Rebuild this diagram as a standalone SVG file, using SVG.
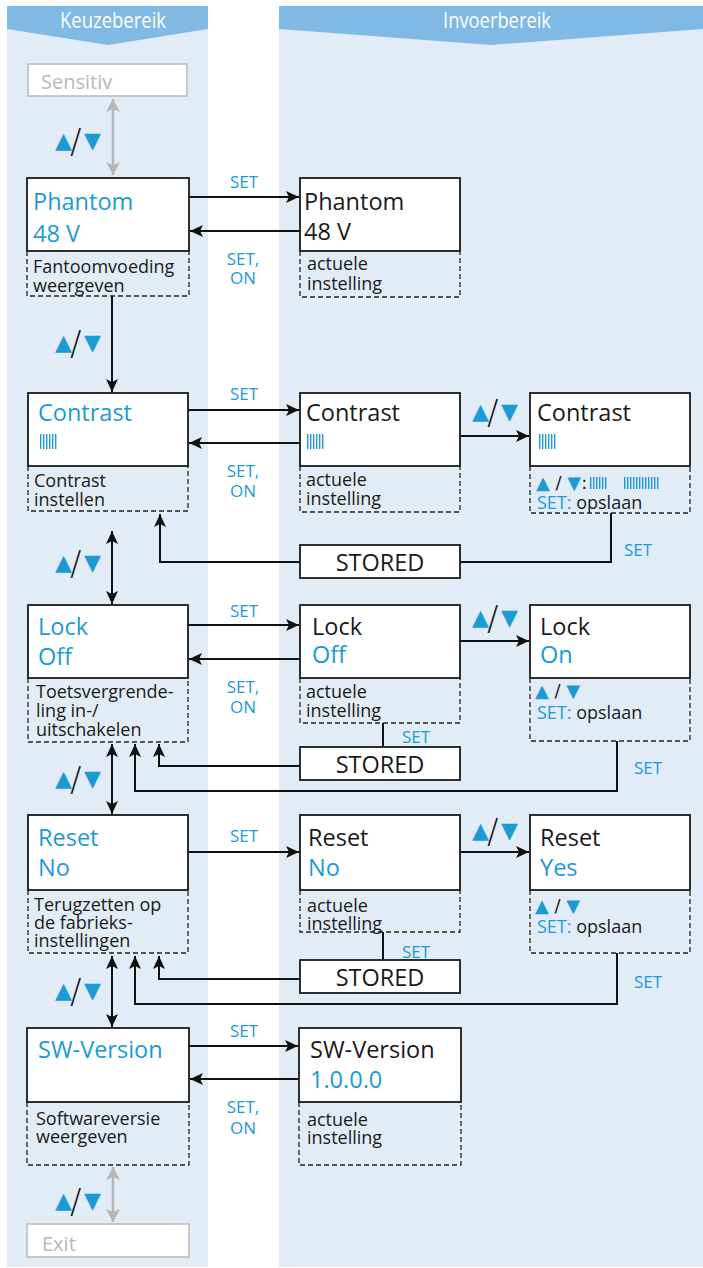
<svg xmlns="http://www.w3.org/2000/svg" width="703" height="1268" viewBox="0 0 703 1268">
<style>
.panel{fill:#e2ecf7}
.hdr{fill:#80b9e6}
.hdrt{fill:#fff;font-family:"Open Sans",sans-serif;font-size:21px;text-anchor:middle}
.box{fill:#fff;stroke:#1a1a1a;stroke-width:1.8}
.gbox{fill:#fff;stroke:#bdbdbd;stroke-width:1.6}
.dash{fill:none;stroke:#222;stroke-width:1.3;stroke-dasharray:5 3}
.t24{font-family:"Open Sans",sans-serif;font-size:23.5px}
.t18{font-family:"Open Sans",sans-serif;font-size:18px;fill:#1a1a1a}
.g20{font-family:"Open Sans",sans-serif;font-size:20px;fill:#b8b8b8}
.bl{fill:#1b9ad6}
.k{fill:#1a1a1a}
.lbl{font-family:"Open Sans",sans-serif;font-size:17px;fill:#1b9ad6;text-anchor:middle}
.sym{font-family:"DejaVu Sans",sans-serif;font-size:22px}
.sym18{font-family:"DejaVu Sans",sans-serif;font-size:18px}
.sl{font-family:"DejaVu Sans",sans-serif;font-weight:200;font-size:34px;fill:#1a1a1a}
.conn{fill:none;stroke:#111;stroke-width:2}
.gconn{fill:none;stroke:#b5b5b5;stroke-width:2.5}
.bars{stroke:#1b9ad6;stroke-width:1.4}
</style>
<defs>
<marker id="ah" markerUnits="userSpaceOnUse" markerWidth="14" markerHeight="12" refX="13" refY="6" orient="auto-start-reverse" viewBox="0 0 14 12"><path d="M0,0 L13,6 L0,12 L3,6 z" fill="#111"/></marker>
<marker id="gah" markerUnits="userSpaceOnUse" markerWidth="14" markerHeight="14" refX="13" refY="7" orient="auto-start-reverse" viewBox="0 0 14 14"><path d="M0,0 L13,7 L0,14 L3,7 z" fill="#b5b5b5"/></marker>
<g id="bar6"><path class="bars" d="M40.7,0v15M43.7,0v15M46.7,0v15M49.7,0v15M52.7,0v15M55.7,0v15"/></g>
</defs>

<g id="background">
<rect class="panel" x="7" y="6" width="201" height="1261"/>
<rect class="panel" x="279" y="6" width="424" height="1261"/>
<polygon class="hdr" points="7,6 208,6 208,29 108,45 7,29"/>
<polygon class="hdr" points="279,6 703,6 703,29 491,45 279,29"/>
<text class="hdrt" x="113" y="28" textLength="106" lengthAdjust="spacingAndGlyphs">Keuzebereik</text>
<text class="hdrt" x="497" y="28" textLength="108" lengthAdjust="spacingAndGlyphs">Invoerbereik</text>
</g>

<g id="connectors">
<line class="gconn" x1="113" y1="99" x2="113" y2="175" marker-start="url(#gah)" marker-end="url(#gah)"/>
<line class="gconn" x1="113" y1="1167" x2="113" y2="1222" marker-start="url(#gah)" marker-end="url(#gah)"/>
<line class="conn" x1="189" y1="197" x2="299" y2="197" marker-end="url(#ah)"/>
<line class="conn" x1="300" y1="231" x2="190" y2="231" marker-end="url(#ah)"/>
<line class="conn" x1="112" y1="296" x2="112" y2="392" marker-end="url(#ah)"/>
<line class="conn" x1="188" y1="410" x2="299" y2="410" marker-end="url(#ah)"/>
<line class="conn" x1="300" y1="443" x2="189" y2="443" marker-end="url(#ah)"/>
<line class="conn" x1="460" y1="436" x2="529" y2="436" marker-end="url(#ah)"/>
<polyline class="conn" points="611,513 611,562 460,562"/>
<polyline class="conn" points="300,562 160,562 160,514" marker-end="url(#ah)"/>
<line class="conn" x1="112" y1="531" x2="112" y2="604" marker-start="url(#ah)" marker-end="url(#ah)"/>
<line class="conn" x1="188" y1="625" x2="299" y2="625" marker-end="url(#ah)"/>
<line class="conn" x1="300" y1="659" x2="189" y2="659" marker-end="url(#ah)"/>
<line class="conn" x1="460" y1="641" x2="529" y2="641" marker-end="url(#ah)"/>
<line class="conn" x1="383" y1="723" x2="383" y2="747"/>
<polyline class="conn" points="300,766 159,766 159,744" marker-end="url(#ah)"/>
<polyline class="conn" points="617,741 617,791 135,791 135,744" marker-end="url(#ah)"/>
<line class="conn" x1="112" y1="744" x2="112" y2="814" marker-start="url(#ah)" marker-end="url(#ah)"/>
<line class="conn" x1="188" y1="852" x2="299" y2="852" marker-end="url(#ah)"/>
<line class="conn" x1="460" y1="852" x2="529" y2="852" marker-end="url(#ah)"/>
<line class="conn" x1="383" y1="932" x2="383" y2="960"/>
<polyline class="conn" points="300,979 159,979 159,956" marker-end="url(#ah)"/>
<polyline class="conn" points="617,953 617,1004 135,1004 135,956" marker-end="url(#ah)"/>
<line class="conn" x1="112" y1="956" x2="112" y2="1027" marker-start="url(#ah)" marker-end="url(#ah)"/>
<line class="conn" x1="189" y1="1046" x2="298" y2="1046" marker-end="url(#ah)"/>
<line class="conn" x1="299" y1="1079" x2="190" y2="1079" marker-end="url(#ah)"/>
<text class="lbl" x="244" y="188">SET</text>
<text class="lbl" x="243" y="265">SET,<tspan x="243" dy="19">ON</tspan></text>
<text class="lbl" x="244" y="400">SET</text>
<text class="lbl" x="243" y="477">SET,<tspan x="243" dy="20">ON</tspan></text>
<text class="lbl" x="638" y="556">SET</text>
<text class="lbl" x="244" y="617">SET</text>
<text class="lbl" x="243" y="693">SET,<tspan x="243" dy="20">ON</tspan></text>
<text class="lbl" x="416" y="743">SET</text>
<text class="lbl" x="648" y="774">SET</text>
<text class="lbl" x="244" y="842">SET</text>
<text class="lbl" x="416" y="958">SET</text>
<text class="lbl" x="648" y="988">SET</text>
<text class="lbl" x="244" y="1037">SET</text>
<text class="lbl" x="243" y="1113">SET,<tspan x="243" dy="21">ON</tspan></text>
<text class="sym"><tspan class="bl" x="55" y="148">▲</tspan><tspan class="sl" x="70" y="153">/</tspan><tspan class="bl" x="84" y="148">▼</tspan></text>
<text class="sym"><tspan class="bl" x="55" y="350">▲</tspan><tspan class="sl" x="70" y="355">/</tspan><tspan class="bl" x="84" y="350">▼</tspan></text>
<text class="sym"><tspan class="bl" x="55" y="570">▲</tspan><tspan class="sl" x="70" y="575">/</tspan><tspan class="bl" x="84" y="570">▼</tspan></text>
<text class="sym"><tspan class="bl" x="55" y="786">▲</tspan><tspan class="sl" x="70" y="791">/</tspan><tspan class="bl" x="84" y="786">▼</tspan></text>
<text class="sym"><tspan class="bl" x="55" y="998">▲</tspan><tspan class="sl" x="70" y="1003">/</tspan><tspan class="bl" x="84" y="998">▼</tspan></text>
<text class="sym"><tspan class="bl" x="55" y="1208">▲</tspan><tspan class="sl" x="70" y="1213">/</tspan><tspan class="bl" x="84" y="1208">▼</tspan></text>
<text class="sym"><tspan class="bl" x="472" y="419">▲</tspan><tspan class="sl" x="487" y="424">/</tspan><tspan class="bl" x="501" y="419">▼</tspan></text>
<text class="sym"><tspan class="bl" x="472" y="625">▲</tspan><tspan class="sl" x="487" y="630">/</tspan><tspan class="bl" x="501" y="625">▼</tspan></text>
<text class="sym"><tspan class="bl" x="472" y="838">▲</tspan><tspan class="sl" x="487" y="843">/</tspan><tspan class="bl" x="501" y="838">▼</tspan></text>
</g>

<g id="sensitiv">
<rect class="gbox" x="28" y="64" width="159" height="32"/>
<text class="g20" x="41" y="89">Sensitiv</text>
</g>

<g id="phantom-menu">
<path class="dash" d="M27,251V296H189V251"/>
<rect class="box" x="27" y="178" width="162" height="73"/>
<text class="t24 bl" x="33" y="210">Phantom<tspan x="33" dy="32">48 V</tspan></text>
<text class="t18" x="33" y="273">Fantoomvoeding<tspan x="33" dy="19">weergeven</tspan></text>
</g>
<g id="phantom-input">
<path class="dash" d="M300,251V297H460V251"/>
<rect class="box" x="300" y="178" width="160" height="73"/>
<text class="t24 k" x="304" y="210">Phantom<tspan x="304" dy="30">48 V</tspan></text>
<text class="t18" x="307" y="270">actuele<tspan x="307" dy="20">instelling</tspan></text>
</g>

<g id="contrast-menu">
<path class="dash" d="M28,466V511H188V466"/>
<rect class="box" x="28" y="393" width="160" height="73"/>
<text class="t24 bl" x="38" y="421">Contrast</text>
<use href="#bar6" y="434"/>
<text class="t18" x="34" y="487">Contrast<tspan x="34" dy="19">instellen</tspan></text>
</g>
<g id="contrast-input">
<path class="dash" d="M300,466V512H460V466"/>
<rect class="box" x="300" y="393" width="160" height="73"/>
<text class="t24 k" x="306" y="421">Contrast</text>
<use href="#bar6" x="267" y="434"/>
<text class="t18" x="306" y="486">actuele<tspan x="306" dy="19">instelling</tspan></text>
</g>
<g id="contrast-edit">
<path class="dash" d="M530,466V513H690V466"/>
<rect class="box" x="530" y="393" width="160" height="73"/>
<text class="t24 k" x="537" y="421">Contrast</text>
<use href="#bar6" x="499" y="434"/>
<text class="sym18" x="536" y="489"><tspan class="bl">▲</tspan><tspan class="k"> / </tspan><tspan class="bl">▼</tspan><tspan class="k">:</tspan></text>
<path class="bars" d="M590.7,477v12M593.7,477v12M596.7,477v12M599.7,477v12M602.7,477v12M605.7,477v12M624.7,477v12M627.7,477v12M630.7,477v12M633.7,477v12M636.7,477v12M639.7,477v12M642.7,477v12M645.7,477v12M648.7,477v12M651.7,477v12M654.7,477v12M657.7,477v12"/>
<text class="t18" x="537" y="509"><tspan class="bl">SET:</tspan> opslaan</text>
</g>
<g id="contrast-stored">
<rect class="box" x="300" y="545" width="160" height="33"/>
<text class="t24 k" x="380" y="571" text-anchor="middle">STORED</text>
</g>

<g id="lock-menu">
<path class="dash" d="M28,678V742H188V678"/>
<rect class="box" x="28" y="605" width="160" height="73"/>
<text class="t24 bl" x="38" y="635">Lock<tspan x="38" dy="30">Off</tspan></text>
<text class="t18" x="36" y="698">Toetsvergrende-<tspan x="36" dy="19">ling in-/</tspan><tspan x="36" dy="19">uitschakelen</tspan></text>
</g>
<g id="lock-input">
<path class="dash" d="M300,678V723H460V678"/>
<rect class="box" x="300" y="605" width="160" height="73"/>
<text class="t24 k" x="312" y="635">Lock</text>
<text class="t24 bl" x="312" y="663">Off</text>
<text class="t18" x="306" y="698">actuele<tspan x="306" dy="19">instelling</tspan></text>
</g>
<g id="lock-edit">
<path class="dash" d="M530,678V741H690V678"/>
<rect class="box" x="530" y="605" width="160" height="73"/>
<text class="t24 k" x="540" y="635">Lock</text>
<text class="t24 bl" x="540" y="663">On</text>
<text class="sym18" x="535" y="697"><tspan class="bl">▲</tspan><tspan class="k"> / </tspan><tspan class="bl">▼</tspan><tspan class="t18 bl" x="537" dy="22">SET:</tspan><tspan class="t18"> opslaan</tspan></text>
</g>
<g id="lock-stored">
<rect class="box" x="300" y="747" width="160" height="33"/>
<text class="t24 k" x="380" y="773" text-anchor="middle">STORED</text>
</g>

<g id="reset-menu">
<path class="dash" d="M28,890V953H188V890"/>
<rect class="box" x="28" y="815" width="160" height="75"/>
<text class="t24 bl" x="38" y="846">Reset<tspan x="38" dy="30">No</tspan></text>
<text class="t18" x="34" y="911">Terugzetten op<tspan x="34" dy="18">de fabrieks-</tspan><tspan x="34" dy="18">instellingen</tspan></text>
</g>
<g id="reset-input">
<path class="dash" d="M300,890V932H460V890"/>
<rect class="box" x="300" y="815" width="160" height="75"/>
<text class="t24 k" x="308" y="846">Reset</text>
<text class="t24 bl" x="308" y="876">No</text>
<text class="t18" x="307" y="912">actuele<tspan x="307" dy="18">instelling</tspan></text>
</g>
<g id="reset-edit">
<path class="dash" d="M530,890V953H690V890"/>
<rect class="box" x="530" y="815" width="160" height="75"/>
<text class="t24 k" x="540" y="846">Reset</text>
<text class="t24 bl" x="540" y="876">Yes</text>
<text class="sym18" x="535" y="912"><tspan class="bl">▲</tspan><tspan class="k"> / </tspan><tspan class="bl">▼</tspan><tspan class="t18 bl" x="537" dy="21">SET:</tspan><tspan class="t18"> opslaan</tspan></text>
</g>
<g id="reset-stored">
<rect class="box" x="300" y="960" width="160" height="33"/>
<text class="t24 k" x="380" y="986" text-anchor="middle">STORED</text>
</g>

<g id="sw-menu">
<path class="dash" d="M27,1102V1165H189V1102"/>
<rect class="box" x="27" y="1028" width="162" height="74"/>
<text class="t24 bl" x="38" y="1058">SW-Version</text>
<text class="t18" x="36" y="1125">Softwareversie<tspan x="36" dy="18">weergeven</tspan></text>
</g>
<g id="sw-input">
<path class="dash" d="M299,1102V1165H461V1102"/>
<rect class="box" x="299" y="1028" width="162" height="74"/>
<text class="t24 k" x="310" y="1058">SW-Version</text>
<text class="t24 bl" x="310" y="1088">1.0.0.0</text>
<text class="t18" x="307" y="1126">actuele<tspan x="307" dy="18">instelling</tspan></text>
</g>

<g id="exit">
<rect class="gbox" x="27" y="1224" width="162" height="33"/>
<text class="g20" x="42" y="1251">Exit</text>
</g>
</svg>
